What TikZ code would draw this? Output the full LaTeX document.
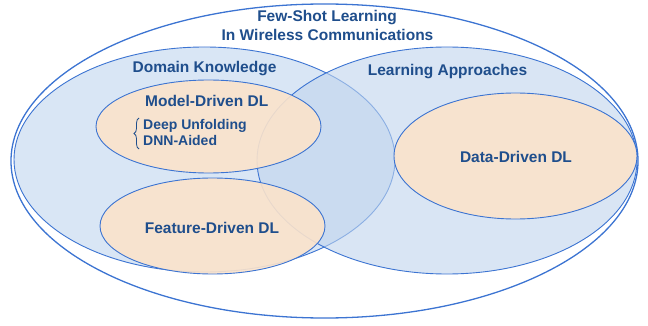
\documentclass[tikz,border=0pt]{standalone}
\usepackage{fontspec}
\setmainfont{Liberation Sans}
\usetikzlibrary{shapes.geometric,decorations.pathreplacing}
\definecolor{edgeblue}{HTML}{3C74D2}
\definecolor{setblue}{HTML}{D9E6F5}
\definecolor{setbluedeep}{HTML}{C0D5EE}
\definecolor{peach}{HTML}{FBE3CB}
\definecolor{txtblue}{HTML}{1F4E8C}
\tikzset{
  setell/.style={ellipse, draw=edgeblue, line width=0.9pt, inner sep=0pt},
  bigset/.style={setell, fill=setblue},
  subset/.style={setell, fill=peach, fill opacity=0.9},
  lbl/.style={text=txtblue, font=\bfseries\fontsize{15.5}{18}\selectfont, anchor=base, inner sep=0pt},
  sublbl/.style={text=txtblue, font=\bfseries\fontsize{14}{16}\selectfont, anchor=base west, inner sep=0pt},
}
\begin{document}
\begin{tikzpicture}[x=1pt,y=-1pt]
\useasboundingbox (0,0) rectangle (648,326);
% outer set
\node[setell, fill=white, line width=1.3pt, minimum width=627pt, minimum height=314pt] (outer) at (324.5,161) {};
% domain knowledge and learning approaches
\node[bigset, minimum width=381pt, minimum height=225pt] (dk) at (204.5,159.5) {};
\node[setell, fill=setbluedeep, fill opacity=0.6, minimum width=380pt, minimum height=227pt] (la) at (447,160.5) {};
% inner sets
\node[subset, minimum width=225pt, minimum height=93pt] (model) at (208.5,126.5) {};
\node[subset, minimum width=225pt, minimum height=96pt] (feature) at (212.5,226) {};
\node[subset, minimum width=243pt, minimum height=126pt] (data) at (515.5,156) {};
% labels
\node[lbl] (t1) at (327,21.7) {Few-Shot Learning};
\node[lbl] (t2) at (327.5,40.5) {In Wireless Communications};
\node[lbl] (tdk) at (204.5,72.7) {Domain Knowledge};
\node[lbl] (tla) at (447.5,76) {Learning Approaches};
\node[lbl] (tmodel) at (206.7,106.7) {Model-Driven DL};
\node[lbl] (tfeature) at (212,233.3) {Feature-Driven DL};
\node[lbl] (tdata) at (516,162.7) {Data-Driven DL};
\node[sublbl] (tdeep) at (143,130) {Deep Unfolding};
\node[sublbl] (tdnn) at (143,146) {DNN-Aided};
% brace
\coordinate (bbot) at (139,149);
\coordinate (btop) at (139,118);
\draw[txtblue, line width=0.8pt, decorate, decoration={brace, amplitude=5pt}] (bbot) -- (btop);
\end{tikzpicture}
\end{document}
